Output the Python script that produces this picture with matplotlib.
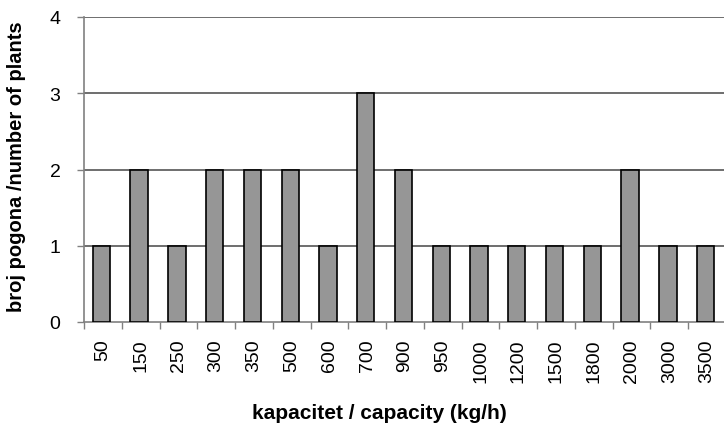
import matplotlib
matplotlib.use("Agg")
import matplotlib.pyplot as plt
import numpy as np

plt.rcParams['font.family'] = ['Liberation Sans', 'DejaVu Sans']

categories = ["50", "150", "250", "300", "350", "500", "600", "700", "900", "950",
              "1000", "1200", "1500", "1800", "2000", "3000", "3500"]
counts = [1, 2, 1, 2, 2, 2, 1, 3, 2, 1, 1, 1, 1, 1, 2, 1, 1]
yticks = [0, 1, 2, 3, 4]

fig = plt.figure(figsize=(7.24, 4.27), dpi=100)
ax = fig.add_axes([84/724, 1-323/427, 642/724, (323-18)/427])

x = np.arange(len(categories))
ax.bar(x - 0.04, counts, width=0.46, color='#969696', edgecolor='black', linewidth=1.2, zorder=3)

ax.set_xlim(-0.5, len(categories) - 0.5)
ax.set_ylim(0, 4)
ax.set_yticks(yticks)
ax.set_yticklabels([str(v) for v in yticks], fontsize=14)
ax.set_xticks(x)
ax.set_xticklabels(categories, rotation=90, fontsize=14)
ax.set_xticks(np.arange(len(categories) + 1) - 0.5, minor=True)
ax.tick_params(axis='x', which='major', length=0, pad=12)
ax.tick_params(axis='x', which='minor', length=5, color='#808080', width=1)
ax.tick_params(axis='y', length=5, color='#808080', width=1, pad=12)

for v in yticks[1:]:
    ax.axhline(v, color='#555555', linewidth=1.2, zorder=1)

for s in ['top', 'right']:
    ax.spines[s].set_visible(False)
for s in ['left', 'bottom']:
    ax.spines[s].set_color('#808080')
    ax.spines[s].set_linewidth(1.2)

fig.text(379/724, 1-414/427, "kapacitet / capacity (kg/h)", ha='center', va='center',
         fontsize=15, fontweight='bold')
fig.text(17/724, 1-167/427, "broj pogona /number of plants", ha='center', va='center',
         rotation=90, fontsize=14.5, fontweight='bold')

fig.savefig("out.png", dpi=100)
